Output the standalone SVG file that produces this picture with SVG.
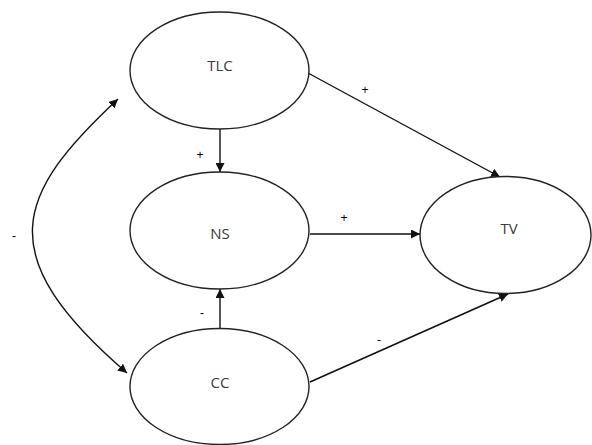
<svg xmlns="http://www.w3.org/2000/svg" width="592" height="445" viewBox="0 0 592 445">
<style>
.node{fill:#fff;stroke:#222;stroke-width:1.4}
.lbl{font-family:"Open Sans","Liberation Sans",sans-serif;font-size:15px;fill:#3a3a3a;text-anchor:middle;dominant-baseline:central}
.sign{font-family:"Liberation Sans",sans-serif;font-size:12px;fill:#000;text-anchor:middle;dominant-baseline:central}
.edge{fill:none;stroke:#111;stroke-width:1.4}
</style>
<defs>
<marker id="ah" viewBox="0 0 10 10" refX="10" refY="5" markerWidth="9" markerHeight="9" markerUnits="userSpaceOnUse" orient="auto-start-reverse">
<path d="M0,0 L10,5 L0,10 z" fill="#111"/>
</marker>
</defs>
<rect width="592" height="445" fill="#fff"/>
<g id="connectors">
<path class="edge" d="M220,129 L220,172" marker-end="url(#ah)"/>
<path class="edge" d="M220,328 L220,289" marker-end="url(#ah)"/>
<path class="edge" d="M308,73 L500,177" marker-end="url(#ah)"/>
<path class="edge" d="M310,234 L420,234" marker-end="url(#ah)"/>
<path class="edge" d="M310,382 L508,294" marker-end="url(#ah)"/>
<path class="edge" d="M118,99 C15,195 -10,255 127,373" marker-start="url(#ah)" marker-end="url(#ah)"/>
<text class="sign" x="200" y="155">+</text>
<text class="sign" x="202" y="313">-</text>
<text class="sign" x="365" y="90">+</text>
<text class="sign" x="344" y="218">+</text>
<text class="sign" x="379" y="340">-</text>
<text class="sign" x="14" y="236">-</text>
</g>
<g id="TLC">
<ellipse class="node" cx="219.5" cy="70.5" rx="89.5" ry="58.5"/>
<text class="lbl" x="220" y="65">TLC</text>
</g>
<g id="NS">
<ellipse class="node" cx="219.5" cy="230.5" rx="89.5" ry="58.5"/>
<text class="lbl" x="220" y="233">NS</text>
</g>
<g id="CC">
<ellipse class="node" cx="219.5" cy="386.5" rx="89.5" ry="58"/>
<text class="lbl" x="220" y="382">CC</text>
</g>
<g id="TV">
<ellipse class="node" cx="505.5" cy="235" rx="85.5" ry="58.5"/>
<text class="lbl" x="509" y="228">TV</text>
</g>
</svg>
